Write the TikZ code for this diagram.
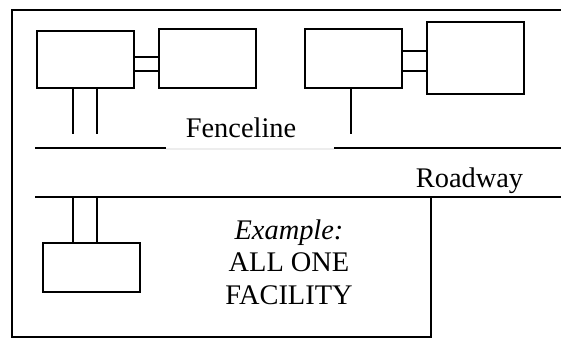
\documentclass[tikz,border=0pt]{standalone}
\usepackage{fontspec}
\setmainfont{Liberation Serif}
\usetikzlibrary{positioning}
\tikzset{box/.style={draw, line width=1pt, minimum width=48.5pt, inner sep=0pt}}
\tikzset{lbl/.style={font=\fontsize{14.2}{16.3}\selectfont, inner sep=0pt}}

\begin{document}
\begin{tikzpicture}[x=0.5pt, y=-0.5pt, line width=1pt]
      \useasboundingbox (0,0) rectangle (561,338);

      % site boundary and roadway
      \draw (561,10) -- (12,10) -- (12,337) -- (431,337) -- (431,197);
      \draw (35,197) -- (561,197);
      \draw (35,148) -- (166,148);
      \draw (334,148) -- (561,148);
      \draw [black!7, line width=0.6pt] (166,149) -- (334,149);

      % buildings
      \node [box, minimum height=28.5pt] (A) at (85.5,59.5) {};
      \node [box, minimum height=29.5pt] (B) at (207.5,58.5) {};
      \node [box, minimum height=29.5pt] (C) at (353.5,58.5) {};
      \node [box, minimum height=36pt] (D) at (475.5,58) {};
      \node [box, minimum height=24.5pt] (E) at (91.5,267.5) {};

      \coordinate (ab1) at (0,57);
      \coordinate (ab2) at (0,71);
      \coordinate (cd1) at (0,51);
      \coordinate (cd2) at (0,71);
      \draw (A.east |- ab1) -- (B.west |- ab1);
      \draw (A.east |- ab2) -- (B.west |- ab2);
      \draw (C.east |- cd1) -- (D.west |- cd1);
      \draw (C.east |- cd2) -- (D.west |- cd2);

      % pipes
      \coordinate (a1) at (73,134);
      \coordinate (a2) at (97,134);
      \coordinate (c1) at (351,134);
      \coordinate (e1) at (73,197);
      \coordinate (e2) at (97,197);
      \draw (A.south -| a1) -- (a1);
      \draw (A.south -| a2) -- (a2);
      \draw (C.south -| c1) -- (c1);
      \draw (E.north -| e1) -- (e1);
      \draw (E.north -| e2) -- (e2);

      % labels
      \node [lbl, anchor=base] (fence) at (241,137) {Fenceline};
      \node [lbl, anchor=base] (road) at (469.5,187) {Roadway};
      \node [lbl, align=center] (ex) at (289,262)
        {\textit{Example:}\\ ALL ONE\\ FACILITY};
\end{tikzpicture}
\end{document}
